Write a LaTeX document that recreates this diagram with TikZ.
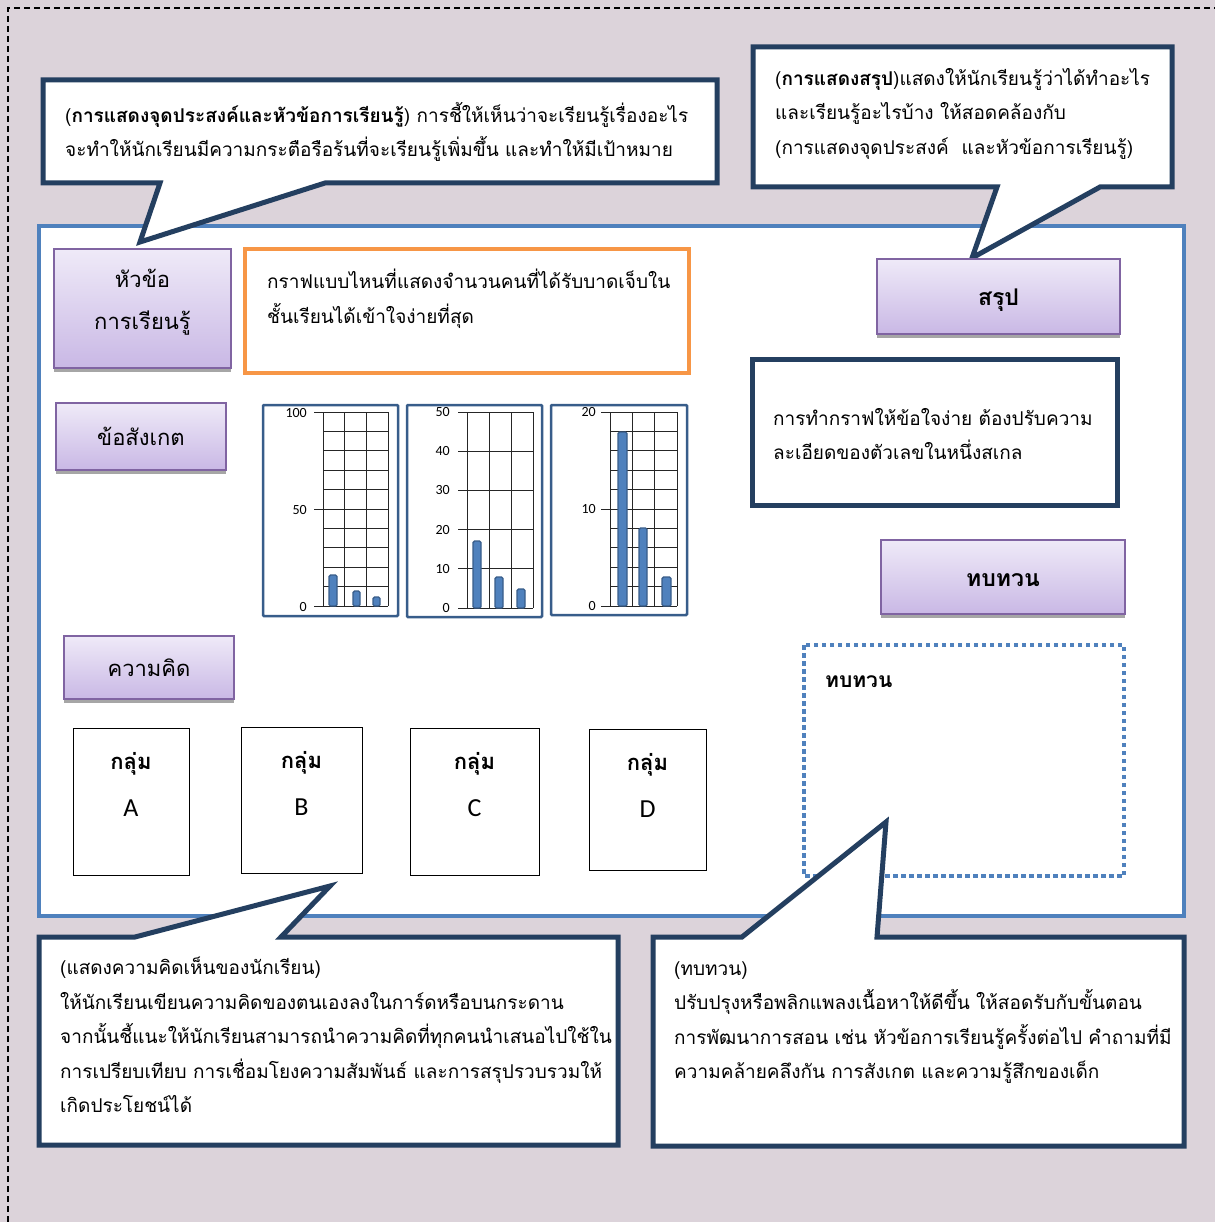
\documentclass[tikz,border=0pt]{standalone}
\usepackage{fontspec}
\setmainfont[Script=Thai]{Loma}
\newfontfamily\latinfont{Carlito}
\usetikzlibrary{positioning,shadows}

\definecolor{boardbg}{RGB}{220,211,218}
\definecolor{navy}{RGB}{36,63,96}
\definecolor{panelblue}{RGB}{79,129,189}
\definecolor{barline}{RGB}{56,93,138}
\definecolor{orangeline}{RGB}{247,150,70}
\definecolor{purpleline}{RGB}{128,100,162}
\definecolor{purpletop}{RGB}{239,234,248}
\definecolor{purplebot}{RGB}{201,184,229}

\begin{document}
\begin{tikzpicture}[x=1pt,y=-1pt,every node/.style={inner sep=0pt},
    callout/.style={draw=navy,line width=5pt,fill=white,line join=miter},
    calltext/.style={anchor=north west,align=left,font=\fontsize{19}{34.5}\selectfont},
    topicbox/.style={draw=purpleline,line width=1.6pt,top color=purpletop,bottom color=purplebot,
        general shadow={fill=black!35,shadow yshift=-4pt},align=center,
        text height=20pt,text depth=2pt,font=\fontsize{22}{42}\selectfont},
    groupbox/.style={draw,line width=1pt,fill=white},
    groupname/.style={align=center,font=\fontsize{22}{47}\selectfont},
    chartbox/.style={draw=barline,line width=2.5pt,rounded corners=1pt,fill=white},
    gridline/.style={black!85,line width=0.8pt},
    chartbar/.style={draw=barline,line width=1.4pt,fill=panelblue,rounded corners=1.5pt},
    axislabel/.style={anchor=east,font=\latinfont\fontsize{14}{14}\selectfont}]
    \useasboundingbox (0,0) rectangle (1215,1222);
    \fill[boardbg] (0,0) rectangle (1215,1222);
    \draw[line width=1.2pt,dash pattern=on 6pt off 4pt] (8,1222) -- (8,8) -- (1215,8);
    % board
    \draw[panelblue,line width=4pt,fill=white] (39,226) rectangle (1184,916);
    % callouts
    \draw[callout] (43,80) -- (717,80) -- (717,183) -- (325,183) -- (140,242) -- (160,183) -- (43,183) -- cycle;
    \draw[callout] (753,47) -- (1172,47) -- (1172,187) -- (1100,187) -- (972,258) -- (997,187) -- (753,187) -- cycle;
    \node[calltext] (aimtext) at (65,102) {(\textbf{การแสดงจุดประสงค์และหัวข้อการเรียนรู้}) การชี้ให้เห็นว่าจะเรียนรู้เรื่องอะไร\\จะทำให้นักเรียนมีความกระตือรือร้นที่จะเรียนรู้เพิ่มขึ้น และทำให้มีเป้าหมาย};
    \node[calltext] (sumtext) at (775,68) {(\textbf{การแสดงสรุป})แสดงให้นักเรียนรู้ว่าได้ทำอะไร\\และเรียนรู้อะไรบ้าง ให้สอดคล้องกับ\\(การแสดงจุดประสงค์\ \ และหัวข้อการเรียนรู้)};
    % left column
    \node[topicbox,minimum width=177pt,minimum height=119pt,text height=,text depth=18pt] (topic) at (142.5,308.5) {หัวข้อ\\การเรียนรู้};
    \node[topicbox,minimum width=170pt,minimum height=67pt] (observe) at (141,436.5) {ข้อสังเกต};
    \node[topicbox,minimum width=170pt,minimum height=63pt] (idea) at (149,667.5) {ความคิด};
    \draw[orangeline,line width=4pt,fill=white] (245,249) rectangle (689,373);
    \node[calltext] (question) at (267,269) {กราฟแบบไหนที่แสดงจำนวนคนที่ได้รับบาดเจ็บใน\\ชั้นเรียนได้เข้าใจง่ายที่สุด};
    % charts
    \draw[chartbox] (263,405) rectangle (398,616);
    \foreach \k in {0,...,10}
        \draw[gridline] (323,606-19.4*\k) -- (388,606-19.4*\k);
    \foreach \xx in {323,344.7,366.3,388}
        \draw[gridline] (\xx,412) -- (\xx,606);
    \foreach \v/\yy in {100/412,50/509,0/606} {
        \draw[gridline] (314,\yy) -- (323,\yy);
        \node[axislabel] at (307,\yy+1) {\v};
    }
    \draw[chartbar] (329,606) rectangle (337,575);
    \draw[chartbar] (353,606) rectangle (360,591);
    \draw[chartbar] (373,606) rectangle (380,597);

    \draw[chartbox] (407,405) rectangle (542,617);
    \foreach \k in {0,...,5}
        \draw[gridline] (467,608-39.2*\k) -- (533,608-39.2*\k);
    \foreach \xx in {467,489,511,533}
        \draw[gridline] (\xx,412) -- (\xx,608);
    \foreach \v/\k in {0/0,10/1,20/2,30/3,40/4,50/5} {
        \draw[gridline] (458,608-39.2*\k) -- (467,608-39.2*\k);
        \node[axislabel] at (450,608-39.2*\k) {\v};
    }
    \draw[chartbar] (473,608) rectangle (481,541);
    \draw[chartbar] (495,608) rectangle (503,577);
    \draw[chartbar] (517,608) rectangle (525,589);

    \draw[chartbox] (551,405) rectangle (687,615);
    \foreach \k in {0,...,10}
        \draw[gridline] (610,606-19.4*\k) -- (677,606-19.4*\k);
    \foreach \xx in {610,632.3,654.7,677}
        \draw[gridline] (\xx,412) -- (\xx,606);
    \foreach \v/\yy in {20/412,10/509,0/606} {
        \draw[gridline] (601,\yy) -- (610,\yy);
        \node[axislabel] at (596,\yy) {\v};
    }
    \draw[chartbar] (618,606) rectangle (627,432);
    \draw[chartbar] (639,606) rectangle (647,528);
    \draw[chartbar] (662,606) rectangle (671,577);
    % groups
    \node[groupbox,minimum width=116pt,minimum height=147pt] (grpA) at (131,801.5) {};
    \node[groupbox,minimum width=121pt,minimum height=146pt] (grpB) at (301.5,800) {};
    \node[groupbox,minimum width=129pt,minimum height=147pt] (grpC) at (474.5,801.5) {};
    \node[groupbox,minimum width=117pt,minimum height=141pt] (grpD) at (647.5,799.5) {};
    \foreach \g in {A,B,C,D}
        \node[groupname,below=25pt of grp\g.north] {\textbf{กลุ่ม}\\{\latinfont\fontsize{26}{26}\selectfont \g}};
    % right column
    \node[topicbox,minimum width=243pt,minimum height=75pt,font=\bfseries\fontsize{23}{30}\selectfont] (summary) at (998.5,296.5) {สรุป};
    \draw[navy,line width=5pt,fill=white] (752,359) rectangle (1117,505);
    \node[calltext] (scale) at (773,408) {การทำกราฟให้ข้อใจง่าย ต้องปรับความ\\ละเอียดของตัวเลขในหนึ่งสเกล};
    \node[topicbox,minimum width=244pt,minimum height=74pt,font=\bfseries\fontsize{23}{30}\selectfont] (review) at (1003,577) {ทบทวน};
    \draw[panelblue,line width=4pt,dash pattern=on 4.5pt off 3.5pt] (804,645) rectangle (1124,876);
    \node[anchor=west,font=\bfseries\fontsize{21}{25}\selectfont] (reviewhead) at (825,682) {ทบทวน};
    % bottom callouts
    \draw[callout] (39,937) -- (135,937) -- (330,886) -- (281,937) -- (618,937) -- (618,1145) -- (39,1145) -- cycle;
    \draw[callout] (653,937) -- (742,937) -- (886,822) -- (877,937) -- (1184,937) -- (1184,1146) -- (653,1146) -- cycle;
    \node[calltext] (ideatext) at (60,957) {(แสดงความคิดเห็นของนักเรียน)\\ให้นักเรียนเขียนความคิดของตนเองลงในการ์ดหรือบนกระดาน\\จากนั้นชี้แนะให้นักเรียนสามารถนำความคิดที่ทุกคนนำเสนอไปใช้ใน\\การเปรียบเทียบ การเชื่อมโยงความสัมพันธ์ และการสรุปรวบรวมให้\\เกิดประโยชน์ได้};
    \node[calltext] (reviewtext) at (674,961) {(ทบทวน)\\ปรับปรุงหรือพลิกแพลงเนื้อหาให้ดีขึ้น ให้สอดรับกับขั้นตอน\\การพัฒนาการสอน เช่น หัวข้อการเรียนรู้ครั้งต่อไป คำถามที่มี\\ความคล้ายคลึงกัน การสังเกต และความรู้สึกของเด็ก};
\end{tikzpicture}
\end{document}
